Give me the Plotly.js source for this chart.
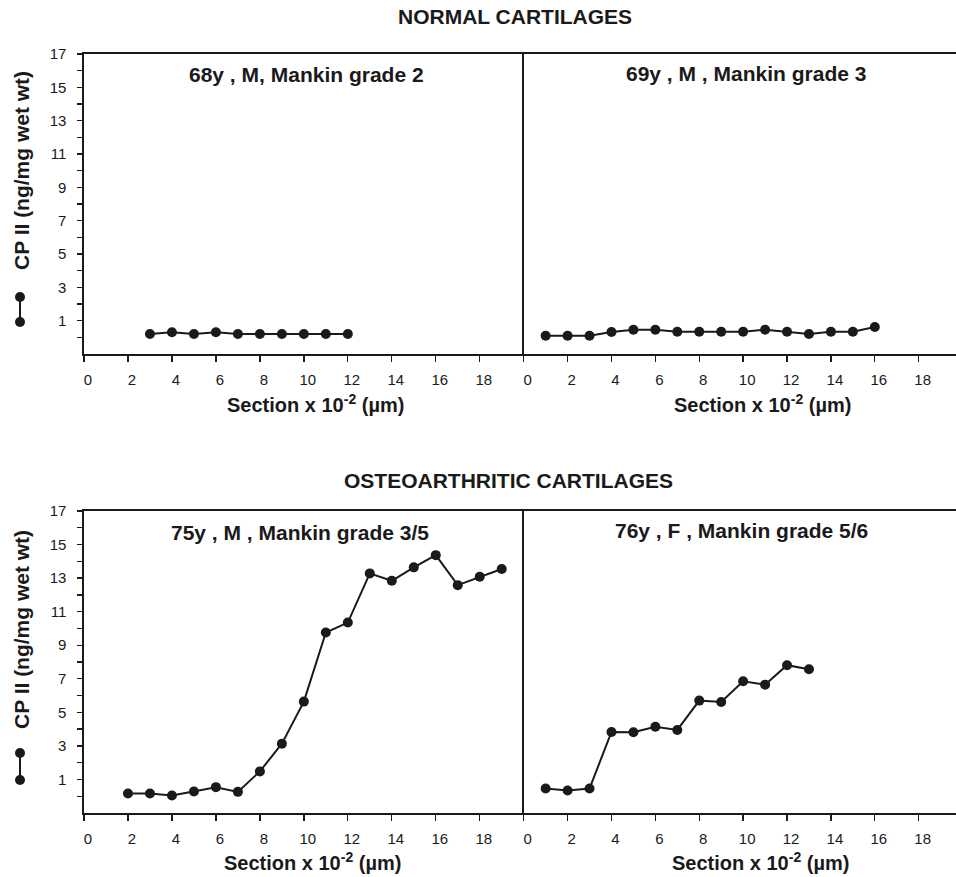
<!DOCTYPE html>
<html>
<head>
<meta charset="utf-8">
<script src="https://cdn.plot.ly/plotly-3.0.1.min.js"></script>
<style>html,body{margin:0;padding:0;background:#fff;}#chart{width:956px;height:877px;}</style>
</head>
<body>
<div id="chart"></div>
<script>
// ---- data ----
var section68 = [3, 4, 5, 6, 7, 8, 9, 10, 11, 12];
var cp68 = [0.2, 0.3, 0.2, 0.3, 0.2, 0.2, 0.2, 0.2, 0.2, 0.2];

var section69 = [1, 2, 3, 4, 5, 6, 7, 8, 9, 10, 11, 12, 13, 14, 15, 16];
var cp69 = [0.1, 0.1, 0.1, 0.32, 0.45, 0.45, 0.33, 0.33, 0.33, 0.33, 0.46, 0.33, 0.2, 0.33, 0.33, 0.62];

var section75 = [2, 3, 4, 5, 6, 7, 8, 9, 10, 11, 12, 13, 14, 15, 16, 17, 18, 19];
var cp75 = [0.16, 0.16, 0.04, 0.28, 0.54, 0.26, 1.48, 3.13, 5.64, 9.76, 10.35, 13.28, 12.84, 13.64, 14.37, 12.58, 13.08, 13.54];

var section76 = [1, 2, 3, 4, 5, 6, 7, 8, 9, 10, 11, 12, 13];
var cp76 = [0.46, 0.34, 0.46, 3.83, 3.81, 4.14, 3.95, 5.70, 5.62, 6.85, 6.65, 7.81, 7.57];

var panelTitles = ["68y , M, Mankin grade 2", "69y , M , Mankin grade 3",
                   "75y , M , Mankin grade 3/5", "76y , F , Mankin grade 5/6"];
var groupTitles = ["NORMAL CARTILAGES", "OSTEOARTHRITIC CARTILAGES"];
var xTickVals = [0, 2, 4, 6, 8, 10, 12, 14, 16, 18];
var yTickVals = [1, 3, 5, 7, 9, 11, 13, 15, 17];
var yMinorTickVals = [0, 2, 4, 6, 8, 10, 12, 14, 16];
var xTitle = "Section x 10<sup>-2</sup> (\u00b5m)";
var yTitle = "CP II (ng/mg wet wt)";

// ---- styling ----
var INK = "#1a1a1a";
var FONT = "Liberation Sans, Arial, Helvetica, sans-serif";

function series(x, y, xa, ya) {
  return {
    x: x, y: y, xaxis: xa, yaxis: ya, type: "scatter", mode: "lines+markers",
    line: {color: INK, width: 2},
    marker: {color: INK, size: 10},
    cliponaxis: false, showlegend: false, hoverinfo: "x+y"
  };
}

var data = [
  series(section68, cp68, "x", "y"),
  series(section69, cp69, "x2", "y2"),
  series(section75, cp75, "x3", "y3"),
  series(section76, cp76, "x4", "y4")
];

var L = 84, R = 0, T = 54, B = 64, W = 956, H = 877;
var PW = W - L - R, PH = H - T - B;
function px(p) { return (p - L) / PW; }
function py(p) { return (H - B - p) / PH; }

var xSplit = px(523.7);
var topDom = [py(354), 1];
var botDom = [0, py(511)];

function xaxis(dom, range, anchor) {
  return {
    domain: dom, range: range, anchor: anchor,
    showline: true, linecolor: INK, linewidth: 1.6, mirror: true,
    ticks: "outside", ticklen: 6, tickwidth: 1.3, tickcolor: INK,
    tickvals: xTickVals, ticklabelshift: 4, ticklabelstandoff: 5,
    tickfont: {family: FONT, size: 15, color: INK},
    showgrid: false, zeroline: false, fixedrange: true
  };
}
function yaxisLeft(dom, anchor) {
  return {
    domain: dom, range: [-1, 17], anchor: anchor,
    showline: true, linecolor: INK, linewidth: 1.6,
    ticks: "outside", ticklen: 5, tickwidth: 1.3, tickcolor: INK,
    tickvals: yTickVals, ticklabelstandoff: 8,
    minor: {tickmode: "array", tickvals: yMinorTickVals, ticks: "outside", ticklen: 5,
            tickwidth: 1.3, tickcolor: INK, showgrid: false},
    tickfont: {family: FONT, size: 15, color: INK},
    showgrid: false, zeroline: false, fixedrange: true
  };
}
function yaxisRight(dom, anchor) {
  return {
    domain: dom, range: [-1, 17], anchor: anchor,
    showline: true, linecolor: INK, linewidth: 1.6,
    ticks: "", showticklabels: false,
    showgrid: false, zeroline: false, fixedrange: true
  };
}

var ann = [];
function text(t, x, y, size, extra) {
  var a = {text: t, x: x, y: y, xref: "paper", yref: "paper", showarrow: false,
           xanchor: "center", yanchor: "middle",
           font: {family: FONT, size: size, color: INK, weight: "bold"}};
  for (var k in extra) a[k] = extra[k];
  ann.push(a);
}
text("<b>" + groupTitles[0] + "</b>", px(515), py(17), 21);
text("<b>" + groupTitles[1] + "</b>", px(508), py(481), 21);
text("<b>" + panelTitles[0] + "</b>", px(306), py(74), 21);
text("<b>" + panelTitles[1] + "</b>", px(746), py(73), 21);
text("<b>" + panelTitles[2] + "</b>", px(300), py(532), 21);
text("<b>" + panelTitles[3] + "</b>", px(741), py(530), 21);
text("<b>" + xTitle + "</b>", px(315), py(403), 20);
text("<b>" + xTitle + "</b>", px(762), py(403), 20);
text("<b>" + xTitle + "</b>", px(312), py(861), 20);
text("<b>" + xTitle + "</b>", px(760), py(861), 20);
text("<b>" + yTitle + "</b>", px(21), py(171), 21, {textangle: -90});
text("<b>" + yTitle + "</b>", px(21), py(630), 21, {textangle: -90});

// legend symbol next to the y titles (vertical line with two dots)
var shapes = [];
function legendSymbol(xp, y1, y2) {
  shapes.push({type: "line", xref: "paper", yref: "paper", x0: px(xp), x1: px(xp), y0: py(y1), y1: py(y2),
               line: {color: INK, width: 2}});
  [y1, y2].forEach(function (yy) {
    shapes.push({type: "circle", xref: "paper", yref: "paper", xsizemode: "pixel", ysizemode: "pixel",
                 xanchor: px(xp), yanchor: py(yy), x0: -5, x1: 5, y0: -5, y1: 5,
                 fillcolor: INK, line: {color: INK, width: 0}});
  });
}
legendSymbol(20, 297, 322);
legendSymbol(20, 753, 780);

var layout = {
  width: W, height: H,
  margin: {l: L, r: R, t: T, b: B, pad: 0},
  paper_bgcolor: "#ffffff", plot_bgcolor: "#ffffff",
  font: {family: FONT, color: INK},
  showlegend: false,
  xaxis: xaxis([0, xSplit], [0, 20], "y"),
  yaxis: yaxisLeft(topDom, "x"),
  xaxis2: xaxis([xSplit, 1], [0, 19.7], "y2"),
  yaxis2: yaxisRight(topDom, "x2"),
  xaxis3: xaxis([0, xSplit], [0, 20], "y3"),
  yaxis3: yaxisLeft(botDom, "x3"),
  xaxis4: xaxis([xSplit, 1], [0, 19.7], "y4"),
  yaxis4: yaxisRight(botDom, "x4"),
  annotations: ann,
  shapes: shapes
};

Plotly.newPlot("chart", data, layout, {displayModeBar: false, staticPlot: true});
</script>
</body>
</html>
